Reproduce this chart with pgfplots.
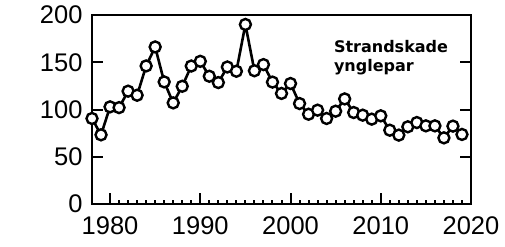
\documentclass[border=0pt]{standalone}
\usepackage{fontspec}
\setmainfont{Liberation Sans}
\newfontfamily\labfont{DejaVu Sans}
\usepackage{pgfplots}
\pgfplotsset{compat=1.18}
\begin{document}
\begin{tikzpicture}
\begin{axis}[
  scale only axis, width=379pt, height=189pt,
  xmin=1978, xmax=2020, ymin=0, ymax=200,
  axis line style={line width=2.6pt},
  xtick={1980,1990,2000,2010,2020},
  minor x tick num=9,
  ytick={0,50,100,150,200},
  xtick pos=bottom, ytick pos=both,
  tick align=inside,
  major tick length=11pt, minor tick length=4.5pt,
  tick style={line width=2pt, black},
  /pgf/number format/assume math mode=true,
  /pgf/number format/1000 sep={},
  ticklabel style={font=\fontsize{25.5}{29}\selectfont},
  xticklabel style={yshift=-9pt},
  yticklabel style={xshift=-6pt},
  clip=false,
]
\addplot[black, line width=2.6pt, mark=*, mark size=5.5pt,
  mark options={fill=white, draw=black, line width=2.4pt}] coordinates {
(1978,90.5) (1979,73.2) (1980,102.8) (1981,102) (1982,119.4) (1983,115.1)
(1984,146.1) (1985,166.2) (1986,129.2) (1987,107) (1988,124.6) (1989,146)
(1990,151) (1991,135.2) (1992,128.5) (1993,145) (1994,140.5) (1995,190)
(1996,141) (1997,147.5) (1998,129) (1999,117) (2000,127.5) (2001,106.3)
(2002,95) (2003,99.3) (2004,90.5) (2005,98.2) (2006,111.2) (2007,96.8)
(2008,94) (2009,89.8) (2010,93.3) (2011,78.1) (2012,72.9) (2013,81.7)
(2014,86.2) (2015,82.7) (2016,82.7) (2017,70) (2018,82.4) (2019,73.6)
};
\node[anchor=base west, inner sep=0pt, font=\labfont\bfseries\fontsize{16}{19}\selectfont] at (axis cs:2004.8,159.8) {Strandskade};
\node[anchor=base west, inner sep=0pt, font=\labfont\bfseries\fontsize{16}{19}\selectfont] at (axis cs:2004.8,139.7) {ynglepar};
\coordinate (ll) at (rel axis cs:0,0);
\coordinate (ur) at (rel axis cs:1,1);
\end{axis}
\pgfresetboundingbox
\path[use as bounding box] ([xshift=-92pt,yshift=-42pt]ll) rectangle ([xshift=34pt,yshift=15pt]ur);
\end{tikzpicture}
\end{document}
